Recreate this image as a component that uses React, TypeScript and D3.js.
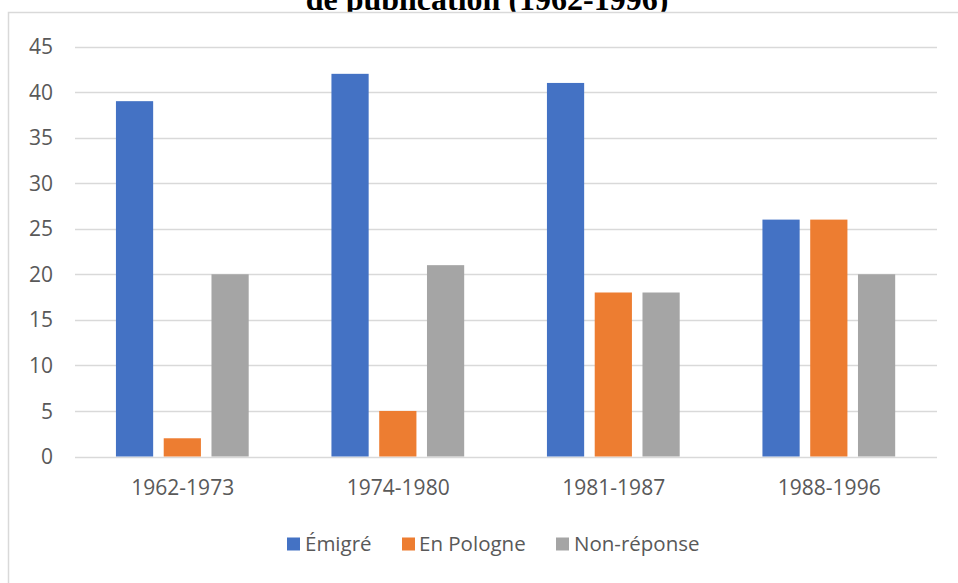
import React from "react";
import * as d3 from "d3";

const categories = ["1962-1973", "1974-1980", "1981-1987", "1988-1996"];
const seriesNames = ["Émigré", "En Pologne", "Non-réponse"];
const emigre = [39, 42, 41, 26];
const enPologne = [2, 5, 18, 26];
const nonReponse = [20, 21, 18, 20];
const yTicks = [0, 5, 10, 15, 20, 25, 30, 35, 40, 45];
const colors = ["#4472C4", "#ED7D31", "#A5A5A5"];
const titleText = "de publication (1962-1996)";

const W = 958;
const H = 583;
const FONT = "'Open Sans', 'Segoe UI', sans-serif";

export default function App() {
  const series = [emigre, enPologne, nonReponse];
  const x = d3.scaleBand<string>().domain(categories).range([75, 937]).padding(0);
  const bw = x.bandwidth();
  const inner = d3
    .scaleBand<string>()
    .domain(seriesNames)
    .range([bw * 0.19, bw * 0.806])
    .paddingInner(0.221)
    .paddingOuter(0);
  const y = d3.scaleLinear().domain([0, 45]).range([456.5, 46.5]);

  const legendItems = [
    { name: seriesNames[0], sx: 287, tx: 305 },
    { name: seriesNames[1], sx: 402, tx: 419 },
    { name: seriesNames[2], sx: 556, tx: 574 },
  ];

  return (
    <svg
      width={W}
      height={H}
      style={{ position: "absolute", left: 0, top: 0, display: "block", background: "#fff" }}
    >
      <text
        x={487}
        y={10}
        textAnchor="middle"
        fontFamily="'Liberation Serif', 'Times New Roman', serif"
        fontWeight="bold"
        fontSize={32}
        fill="#000"
      >
        {titleText}
      </text>
      <rect x={8.5} y={12.5} width={W + 20} height={H + 20} fill="#fff" stroke="#d9d9d9" strokeWidth={1.5} />
      {yTicks.map((t) => (
        <g key={t}>
          <line x1={75} x2={937} y1={Math.round(y(t)) + 0.5} y2={Math.round(y(t)) + 0.5} stroke="#d9d9d9" strokeWidth={1.5} />
          <text
            x={53}
            y={y(t)}
            dy="0.36em"
            textAnchor="end"
            fontFamily={FONT}
            fontSize={21}
            fill="#595959"
          >
            {t}
          </text>
        </g>
      ))}
      {categories.map((c, i) => (
        <g key={c} transform={`translate(${x(c)},0)`}>
          {series.map((s, j) => (
            <rect
              key={j}
              x={inner(seriesNames[j])}
              y={y(s[i])}
              width={inner.bandwidth()}
              height={y(0) - y(s[i])}
              fill={colors[j]}
            />
          ))}
          <text
            x={bw / 2}
            y={487}
            dy="0.36em"
            textAnchor="middle"
            fontFamily={FONT}
            fontSize={21}
            fill="#595959"
          >
            {c}
          </text>
        </g>
      ))}
      {legendItems.map((l, j) => (
        <g key={l.name}>
          <rect x={l.sx} y={537.5} width={13} height={13} fill={colors[j]} />
          <text x={l.tx} y={544} dy="0.36em" fontFamily={FONT} fontSize={20.5} fill="#595959">
            {l.name}
          </text>
        </g>
      ))}
    </svg>
  );
}
